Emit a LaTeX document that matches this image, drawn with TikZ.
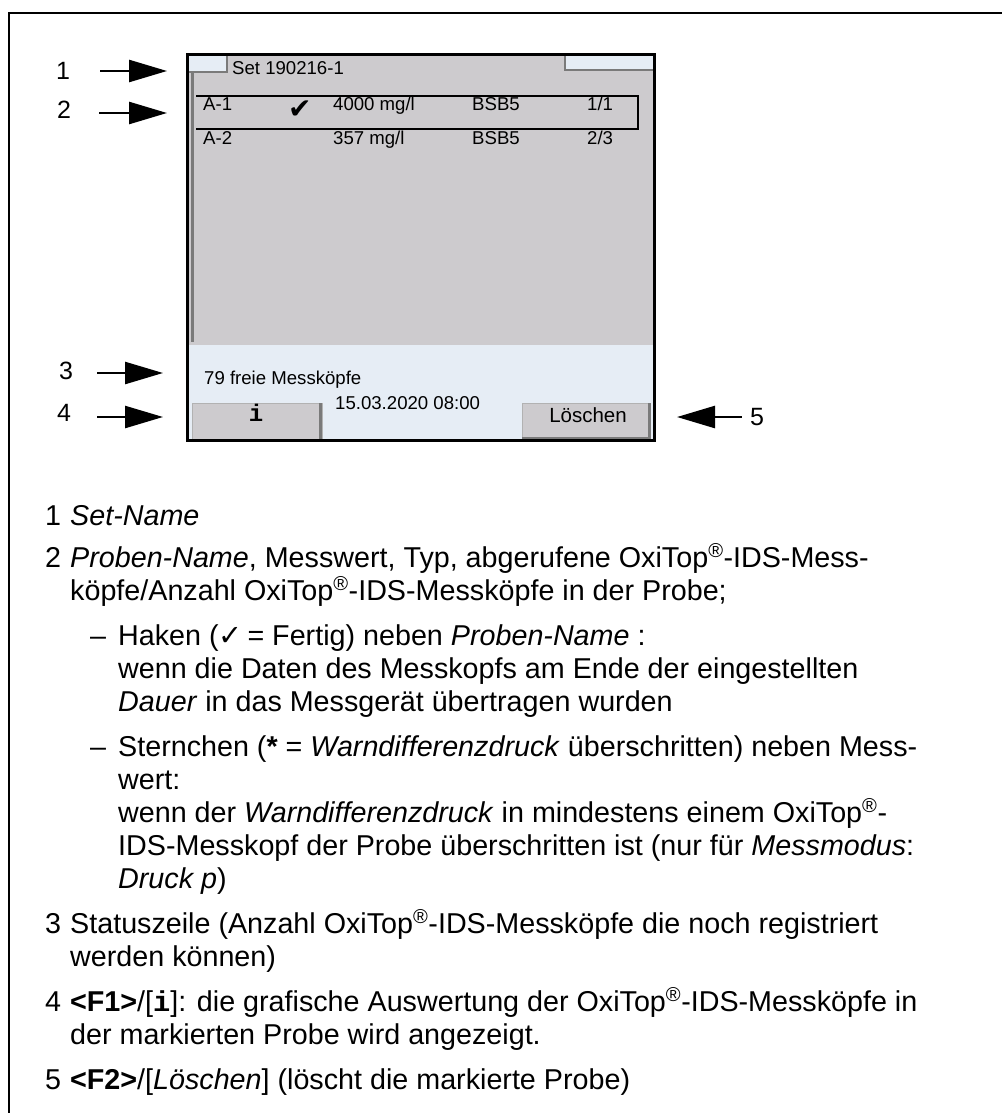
\documentclass[tikz,border=0pt]{standalone}
\usepackage{fontspec}
\setmainfont{Liberation Sans}
\setmonofont{Liberation Mono}
\newfontfamily\symfont{DejaVu Sans}
\usetikzlibrary{arrows.meta}
\definecolor{scrgray}{HTML}{CDCBCE}
\definecolor{scrblue}{HTML}{E6EDF5}
\definecolor{bevel}{HTML}{7A7A7A}
\newcommand\txtbody{\fontsize{28.7}{33}\selectfont}
\newcommand\txtscr{\fontsize{18.6}{21}\selectfont}
\newcommand\txtlab{\fontsize{25}{29}\selectfont}
\newcommand\regmark{\textsuperscript{®}}
\tikzset{
  bodyline/.style={anchor=base west, inner sep=0pt, font=\txtbody},
  scrline/.style={anchor=base west, inner sep=0pt, font=\txtscr},
  callout/.style={inner sep=0pt, font=\txtlab},
  pointer/.style={line width=2.5pt, -{Triangle[length=38pt,width=22pt]}},
  button/.style={fill=scrgray, draw=gray!60, line width=1pt},
}
\begin{document}
\begin{tikzpicture}[x=1pt,y=-1pt]
	\useasboundingbox (0,0) rectangle (1002,1113);
	\draw[line width=2pt] (9,1113) -- (9,13) -- (1002,13);
	
	% screen
	\fill[scrgray] (186,53) rectangle (656,345);
	\fill[scrblue] (186,345) rectangle (656,442);
	\fill[scrblue] (189,55) rectangle (227,72);
	\fill[scrblue] (565,55) rectangle (653,70);
	\draw[bevel, line width=2pt] (189,72) -- (227,72) -- (227,55);
	\draw[bevel, line width=2pt] (565,55) -- (565,70) -- (653,70);
	\draw[bevel, line width=3pt] (192,72) -- (192,342);
	
	\node[scrline] (SA) at (232,75) {Set 190216-1};
	\draw[line width=1.2pt] (196,96) -- (638,96) -- (638,129) -- (196,129);
	
	\node[scrline] (SB) at (203,111) {A-1};
	\node[scrline, font=\symfont\fontsize{28}{28}\selectfont] (SC) at (288,119) {✔};
	\node[scrline] (SD) at (333,111) {4000 mg/l};
	\node[scrline] (SE) at (472,111) {BSB5};
	\node[scrline] (SF) at (587,111) {1/1};
	
	\node[scrline] (SG) at (203,145) {A-2};
	\node[scrline] (SH) at (333,145) {357 mg/l};
	\node[scrline] (SI) at (472,145) {BSB5};
	\node[scrline] (SJ) at (587,145) {2/3};
	
	\node[scrline] (SK) at (204,384) {79 freie Messköpfe};
	\node[scrline] (SL) at (335,409) {15.03.2020 08:00};
	
	\draw[button] (192,403) rectangle (322,440);
	\draw[bevel, line width=3pt] (320,403) -- (320,440);
	\node[font=\fontsize{24}{24}\selectfont\ttfamily\bfseries, inner sep=0pt, anchor=base] (BA) at (256,421) {i};
	\draw[button] (522,403) rectangle (650,440);
	\draw[bevel, line width=3pt] (649,403) -- (649,438) -- (522,438);
	\node[font=\fontsize{20.5}{24}\selectfont, inner sep=0pt, anchor=base] (BB) at (588,422) {Löschen};
	
	\draw[line width=3pt] (187.5,54.5) rectangle (654.5,440.5);
	
	% callouts
	\node[callout] (N1) at (63,71) {1};
	\node[callout] (N2) at (64,110) {2};
	\node[callout] (N3) at (66,371) {3};
	\node[callout] (N4) at (64,413) {4};
	\node[callout] (N5) at (757,417) {5};
	\coordinate (T1) at (167,71);
	\coordinate (T2) at (167,113);
	\coordinate (T3) at (163,373);
	\coordinate (T4) at (163,417);
	\coordinate (T5) at (677,417);
	\draw[pointer, shorten <=30pt] (N1.east) -- (T1);
	\draw[pointer, shorten <=28pt] (N2.east |- T2) -- (T2);
	\draw[pointer, shorten <=24pt] (N3.east |- T3) -- (T3);
	\draw[pointer, shorten <=26pt] (N4.east |- T4) -- (T4);
	\draw[pointer, shorten <=8pt] (N5.west) -- (T5);
	
	% legend
	\node[bodyline] (L1) at (45,525) {1};
	\node[bodyline] (L1a) at (70,525) {\textit{Set-Name}};
	\node[bodyline] (L2) at (45,567) {2};
	\node[bodyline] (L2a) at (70,567) {\textit{Proben-Name}, Messwert, Typ, abgerufene OxiTop\regmark-IDS-Mess-};
	\node[bodyline] (L2b) at (70,600) {köpfe/Anzahl OxiTop\regmark-IDS-Messköpfe in der Probe;};
	\node[bodyline] (D1) at (90,645) {–};
	\node[bodyline] (D1a) at (118,645) {Haken ({\symfont ✓}\,= Fertig) neben \textit{Proben-Name} :};
	\node[bodyline] (D1b) at (118,678) {wenn die Daten des Messkopfs am Ende der eingestellten};
	\node[bodyline] (D1c) at (118,711) {\textit{Dauer} in das Messgerät übertragen wurden};
	\node[bodyline] (D2) at (90,756) {–};
	\node[bodyline] (D2a) at (118,756) {Sternchen (\textbf{*} = \textit{Warndifferenzdruck} überschritten) neben Mess-};
	\node[bodyline] (D2b) at (118,789) {wert:};
	\node[bodyline] (D2c) at (118,822) {wenn der \textit{Warndifferenzdruck} in mindestens einem OxiTop\regmark-};
	\node[bodyline] (D2d) at (118,855) {IDS-Messkopf der Probe überschritten ist (nur für \textit{Messmodus}:};
	\node[bodyline] (D2e) at (118,888) {\textit{Druck p})};
	\node[bodyline] (L3) at (45,933) {3};
	\node[bodyline] (L3a) at (70,933) {Statuszeile (Anzahl OxiTop\regmark-IDS-Messköpfe die noch registriert};
	\node[bodyline] (L3b) at (70,966) {werden können)};
	\node[bodyline] (L4) at (45,1011) {4};
	\node[bodyline] (L4a) at (70,1011) {\textbf{<F1>}/[\texttt{\textbf{i}}]: die grafische Auswertung der OxiTop\regmark-IDS-Messköpfe in};
	\node[bodyline] (L4b) at (70,1044) {der markierten Probe wird angezeigt.};
	\node[bodyline] (L5) at (45,1089) {5};
	\node[bodyline] (L5a) at (70,1089) {\textbf{<F2>}/[\textit{Löschen}] (löscht die markierte Probe)};
\end{tikzpicture}
\end{document}
